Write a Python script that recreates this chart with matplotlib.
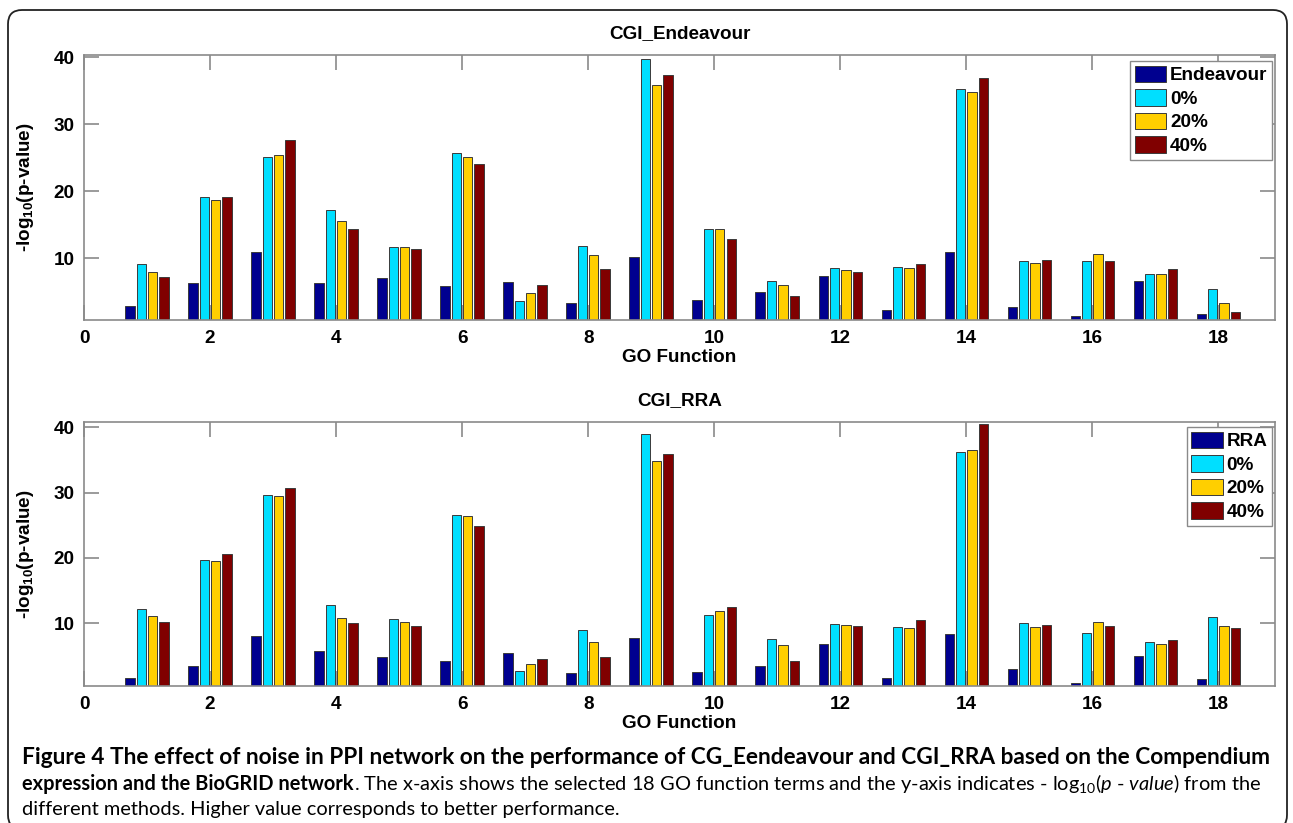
import matplotlib
matplotlib.use('Agg')
import matplotlib.pyplot as plt
import numpy as np
from matplotlib.patches import FancyBboxPatch
from matplotlib.transforms import IdentityTransform
from matplotlib import font_manager

# ---------------- data ----------------
go_terms = list(range(1, 19))
series_labels_top = ['Endeavour', '0%', '20%', '40%']
series_labels_bot = ['RRA', '0%', '20%', '40%']

endeavour = [2.9, 6.2, 10.9, 6.3, 7.0, 5.8, 6.4, 3.3, 10.2, 3.7, 5.0, 7.3, 2.2, 10.9, 2.7, 1.3, 6.5, 1.6]
end_0 = [9.1, 19.15, 25.1, 17.1, 11.6, 25.7, 3.6, 11.8, 39.65, 14.3, 6.6, 8.45, 8.6, 35.3, 9.6, 9.6, 7.66, 5.37]
end_20 = [7.96, 18.7, 25.4, 15.5, 11.6, 25.1, 4.8, 10.5, 35.8, 14.3, 5.9, 8.15, 8.45, 34.8, 9.3, 10.55, 7.56, 3.24]
end_40 = [7.2, 19.05, 27.6, 14.3, 11.3, 24.1, 5.9, 8.35, 37.3, 12.9, 4.4, 7.96, 9.15, 36.9, 9.7, 9.6, 8.3, 2.0]

rra = [1.7, 3.5, 8.05, 5.8, 4.77, 4.2, 5.5, 2.46, 7.7, 2.55, 3.4, 6.8, 1.55, 8.35, 2.97, 0.92, 5.0, 1.43]
rra_0 = [12.15, 19.7, 29.7, 12.8, 10.6, 26.6, 2.66, 8.97, 39.0, 11.2, 7.65, 9.95, 9.4, 36.2, 10.1, 8.5, 7.1, 10.97]
rra_20 = [11.17, 19.5, 29.4, 10.8, 10.2, 26.4, 3.74, 7.1, 34.8, 11.95, 6.7, 9.8, 9.3, 36.55, 9.43, 10.25, 6.9, 9.6]
rra_40 = [10.15, 20.55, 30.65, 10.05, 9.6, 24.9, 4.5, 4.87, 35.85, 12.45, 4.25, 9.6, 10.5, 40.45, 9.8, 9.6, 7.4, 9.2]

x_ticks = [0, 2, 4, 6, 8, 10, 12, 14, 16, 18]
y_ticks = [10, 20, 30, 40]

titles = ['CGI_Endeavour', 'CGI_RRA']
x_label = 'GO Function'
y_label = r'-log$_{10}$(p-value)'

cap_line1 = ('Figure 4 The effect of noise in PPI network on the performance of '
             'CG_Eendeavour and CGI_RRA based on the Compendium')
cap_line2_bold = 'expression and the BioGRID network'
cap_line2_norm = (r'. The x-axis shows the selected 18 GO function terms and the y-axis '
                  r'indicates - log$_{10}$($\mathit{p}$ - $\mathit{value}$) from the')
cap_line3 = 'different methods. Higher value corresponds to better performance.'

# ---------------- style ----------------
colors = ['#00008F', '#00DFFF', '#FFCF00', '#800000']
edge = '#3a3a3a'
axis_gray = '#8a8a8a'
main_font = 'Liberation Sans'


def pick_font(cands):
    for c in cands:
        try:
            font_manager.findfont(font_manager.FontProperties(family=c), fallback_to_default=False)
            return c
        except Exception:
            pass
    return 'DejaVu Sans'


cap_font = pick_font(['Lato', 'Open Sans'])

plt.rcParams['font.family'] = [main_font, 'DejaVu Sans']
plt.rcParams['mathtext.default'] = 'regular'
plt.rcParams['mathtext.fontset'] = 'custom'
plt.rcParams['mathtext.rm'] = cap_font
plt.rcParams['mathtext.it'] = cap_font + ':italic'
plt.rcParams['mathtext.bf'] = cap_font + ':bold'

W, H = 1293, 823
fig = plt.figure(figsize=(W / 100, H / 100), dpi=100)

FS = 13.6
width = 0.148
offsets = [-0.27, -0.09, 0.09, 0.27]

panels = [
    dict(vals=[endeavour, end_0, end_20, end_40], labels=series_labels_top,
         top=55, bot=320, ylim=(0.75, 40.3), title=titles[0], leg=(1127, 61)),
    dict(vals=[rra, rra_0, rra_20, rra_40], labels=series_labels_bot,
         top=422, bot=686, ylim=(0.4, 40.8), title=titles[1], leg=(1184, 427)),
]

x = np.array(go_terms, dtype=float)
for p in panels:
    left, right = 84, 1275
    ax = fig.add_axes([left / W, 1 - p['bot'] / H, (right - left) / W, (p['bot'] - p['top']) / H])
    for i, v in enumerate(p['vals']):
        ax.bar(x + offsets[i], v, width=width, color=colors[i], edgecolor=edge,
               linewidth=0.7, label=p['labels'][i], zorder=2)
    ax.set_xlim(0, 18.9)
    ax.set_ylim(*p['ylim'])
    ax.set_xticks(x_ticks)
    ax.set_yticks(y_ticks)
    ax.tick_params(direction='in', length=11, width=1.2, color=axis_gray,
                   top=True, right=True, labelsize=FS, pad=7)
    for lab in ax.get_xticklabels() + ax.get_yticklabels():
        lab.set_fontweight('bold')
    for s in ax.spines.values():
        s.set_color(axis_gray)
        s.set_linewidth(1.2)
        s.set_zorder(3)
    ax.set_title(p['title'], fontsize=FS, fontweight='bold', pad=12)
    ax.set_xlabel(x_label, fontsize=FS, fontweight='bold', labelpad=2)
    ax.set_ylabel(y_label, fontsize=FS, fontweight='bold')
    ax.yaxis.set_label_coords(-0.040, 0.5)
    leg = ax.legend(loc='upper right', bbox_to_anchor=(0.9975, (p['bot'] - p['leg'][1]) / (p['bot'] - p['top'])),
                    borderaxespad=0, fancybox=False, edgecolor=axis_gray, framealpha=1,
                    prop=dict(family=main_font, weight='bold', size=FS),
                    handlelength=1.65, handleheight=0.95, labelspacing=0.26,
                    handletextpad=0.2, borderpad=0.25)
    leg.get_frame().set_linewidth(1.0)

# ---------------- caption ----------------
fig.canvas.draw()
r = fig.canvas.get_renderer()
x0 = 22


def fit(text_objs, target):
    total = sum(t.get_window_extent(r).width for t in text_objs)
    k = target / total
    for t in text_objs:
        t.set_fontsize(t.get_fontsize() * k)


t1 = fig.text(x0 / W, 1 - 764 / H, cap_line1, fontsize=14, fontweight='bold',
              family=cap_font, va='baseline', ha='left')
fit([t1], 1277 - x0)

t2a = fig.text(x0 / W, 1 - 790 / H, cap_line2_bold, fontsize=14, fontweight='bold',
               family=cap_font, va='baseline', ha='left')
t2b = fig.text(0, 1 - 790 / H, cap_line2_norm, fontsize=14,
               family=cap_font, va='baseline', ha='left')
fit([t2a, t2b], 1267 - x0)
t2b.set_x((x0 + t2a.get_window_extent(r).width) / W)

t3 = fig.text(x0 / W, 1 - 815 / H, cap_line3, fontsize=t2b.get_fontsize(), family=cap_font,
              va='baseline', ha='left')

frame = FancyBboxPatch((8, -6), 1279, 819, boxstyle='round,pad=0,rounding_size=14',
                       transform=IdentityTransform(), facecolor='none',
                       edgecolor='#222222', linewidth=1.3)
fig.patches.append(frame)

fig.savefig('out.png', dpi=100)
